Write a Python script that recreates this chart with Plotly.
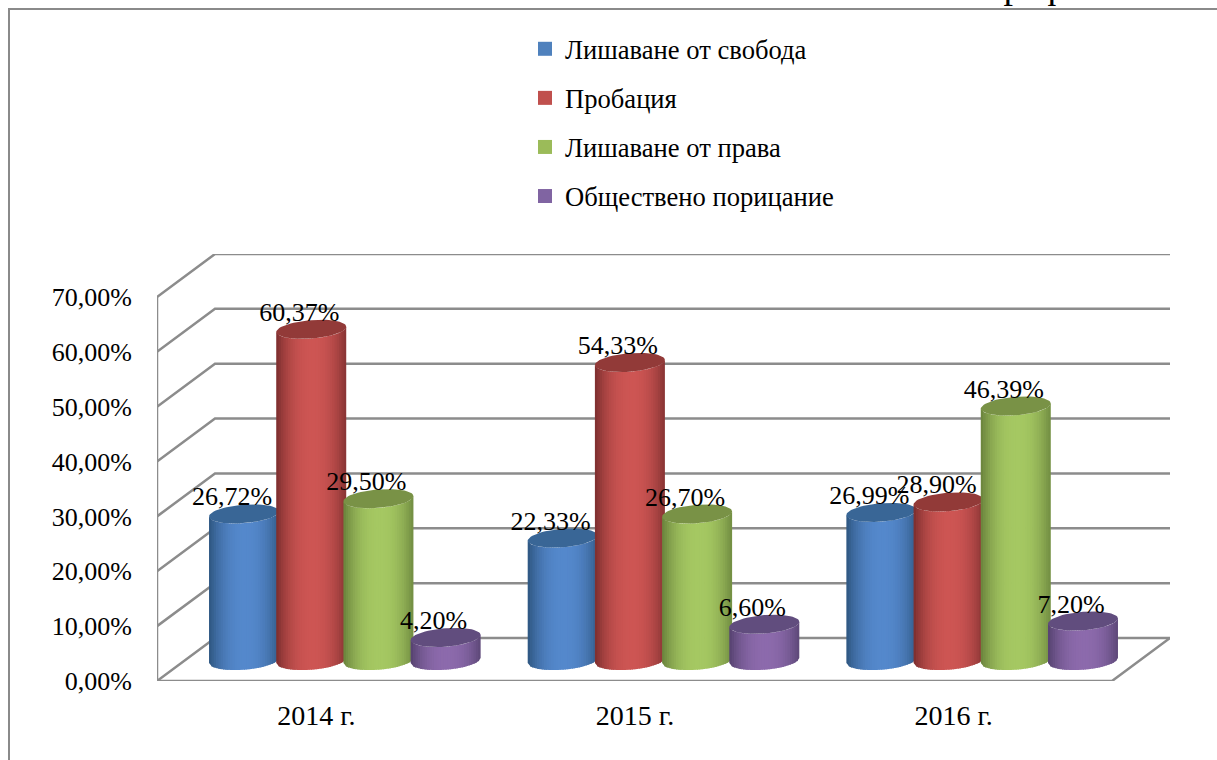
import math
import plotly.graph_objects as go

# ---- data ----
categories = ["2014 г.", "2015 г.", "2016 г."]
series_names = ["Лишаване от свобода", "Пробация", "Лишаване от права", "Обществено порицание"]
svoboda = [26.72, 22.33, 26.99]
probacia = [60.37, 54.33, 28.90]
prava = [29.50, 26.70, 46.39]
poricanie = [4.20, 6.60, 7.20]
series_values = [svoboda, probacia, prava, poricanie]
y_ticks = [0, 10, 20, 30, 40, 50, 60, 70]
y_tick_labels = ["0,00%", "10,00%", "20,00%", "30,00%", "40,00%", "50,00%", "60,00%", "70,00%"]

# ---- style ----
FONT = "Liberation Serif"
FS = 26
centre_cols = [(84, 136, 204), (205, 85, 83), (165, 200, 98), (140, 106, 172)]
edge_cols = [(48, 88, 132), (128, 48, 48), (108, 134, 62), (88, 68, 114)]
cap_cols = [(57, 102, 150), (146, 58, 56), (121, 146, 70), (97, 77, 126)]
swatch_cols = ["#4F81BD", "#C0504D", "#9BBB59", "#8064A2"]
GRID = "#8c8c8c"

# ---- page geometry (pixels) ----
W, H = 1217, 760
L, R, T, B = 157, 1170, 254, 681
PX_PER_CAT = (1113 - 157) / 3
PX_PER_PCT = (681 - 297) / 70
x_min = -0.5
x_max = x_min + (R - L) / PX_PER_CAT
depth_x = 58 / PX_PER_CAT
depth_y = 43 / PX_PER_PCT
y_max = (B - T) / PX_PER_PCT


def ux(px):
    return px / PX_PER_CAT


def uy(px):
    return px / PX_PER_PCT


def paper_x(px):
    return (px - L) / (R - L)


def paper_y(py):
    return (B - py) / (B - T)


# cylinder geometry
step = ux(67.2)
half_w = ux(35)
ell_b = uy(9.2)      # half-height of the tilted ellipse
ell_k = uy(2.6)      # tilt: right side rises
group_dx = ux(28.5)  # half depth of the box
group_dy = uy(20.5)
N = 30


def arc(xc, yc, c, sign):
    """Point of the tilted ellipse at cos = c; sign=-1 is lower arc."""
    s = math.sqrt(max(0, 1 - c * c))
    return xc + half_w * c, yc + ell_k * c + sign * ell_b * s


def mix(a, b, t):
    return "rgb(%d,%d,%d)" % tuple(round(a[i] + (b[i] - a[i]) * t) for i in range(3))


fig = go.Figure()

# walls and floor
gx, gy = [], []
for v in y_ticks:
    gx += [x_min, x_min + depth_x, x_max, None]
    gy += [v, v + depth_y, v + depth_y, None]
# left axis, front floor edge, right floor edge
gx += [x_min, x_min, None, x_min, x_max - depth_x, x_max, None]
gy += [y_ticks[-1], 0, None, 0, 0, depth_y, None]
fig.add_trace(go.Scatter(x=gx, y=gy, mode="lines", line=dict(color=GRID, width=2.5),
                         hoverinfo="skip", showlegend=False, cliponaxis=False))

# cylinders
for si, values in enumerate(series_values):
    name = series_names[si]
    fig.add_trace(go.Scatter(x=[None], y=[None], mode="markers", name=name, legendgroup=name,
                             marker=dict(symbol="square", size=14, color=swatch_cols[si])))
    offset = (si - 1.5) * step + group_dx
    for k in range(N):
        c0 = -1 + 2 * k / N
        c1 = min(1, -1 + 2 * (k + 1.35) / N)
        u = (c0 + c1) / 2
        t = min(1, abs(u - 0.04) ** 2.3)
        xs, ys = [], []
        for ci, val in enumerate(values):
            xc = ci + offset
            yc = group_dy
            x0, yb0 = arc(xc, yc, c0, -1)
            x1, yb1 = arc(xc, yc, c1, -1)
            xs += [x0, x1, x1, x0, x0, None]
            ys += [yb0, yb1, yb1 + val, yb0 + val, yb0, None]
        fig.add_trace(go.Scatter(x=xs, y=ys, mode="lines", fill="toself", line=dict(width=0),
                                 fillcolor=mix(centre_cols[si], edge_cols[si], t),
                                 hoverinfo="skip", showlegend=False, legendgroup=name,
                                 cliponaxis=False))
    # top caps
    cx, cy = [], []
    for ci, val in enumerate(values):
        xc = ci + offset
        for j in range(61):
            th = 2 * math.pi * j / 60
            xp = xc + half_w * math.cos(th)
            yp = group_dy + val + ell_k * math.cos(th) + ell_b * math.sin(th)
            cx.append(xp)
            cy.append(yp)
        cx.append(None)
        cy.append(None)
    fig.add_trace(go.Scatter(x=cx, y=cy, mode="lines", fill="toself", line=dict(width=0),
                             fillcolor=mix(cap_cols[si], cap_cols[si], 0),
                             hoverinfo="skip", showlegend=False, legendgroup=name,
                             cliponaxis=False))

# data labels
for si, values in enumerate(series_values):
    offset = (si - 1.5) * step + group_dx
    fig.add_trace(go.Scatter(
        x=[i + offset - ux(12) for i in range(len(categories))],
        y=[v + group_dy + uy(15) for v in values],
        mode="text",
        text=[f"{v:.2f}".replace(".", ",") + "%" for v in values],
        textposition="middle center",
        textfont=dict(family=FONT, size=FS, color="#000000"),
        showlegend=False, legendgroup=series_names[si], hoverinfo="skip", cliponaxis=False))

# page frame and the cut-off caption
frame = dict(type="line", xref="paper", yref="paper", line=dict(color="#8a8a8a", width=2), layer="below")
shapes = [
    dict(frame, x0=paper_x(9), x1=paper_x(9), y0=paper_y(9), y1=paper_y(H)),
    dict(frame, x0=paper_x(8), x1=paper_x(W), y0=paper_y(9), y1=paper_y(9)),
]
annotations = [dict(text="Графика №3", xref="paper", yref="paper", x=paper_x(982), y=paper_y(8),
                    xanchor="left", yanchor="bottom", showarrow=False,
                    font=dict(family=FONT, size=38, color="#000000"))]

fig.update_layout(
    width=W, height=H,
    margin=dict(l=L, r=W - R, t=T, b=H - B, autoexpand=False),
    paper_bgcolor="#ffffff", plot_bgcolor="#ffffff",
    separators=", ",
    font=dict(family=FONT, size=FS, color="#000000"),
    shapes=shapes, annotations=annotations,
    xaxis=dict(range=[x_min, x_max], tickvals=list(range(len(categories))), ticktext=categories,
               showgrid=False, zeroline=False, showline=False, ticks="",
               ticklabelstandoff=15, tickfont=dict(family=FONT, size=28)),
    yaxis=dict(range=[0, y_max], tickvals=y_ticks, ticktext=y_tick_labels,
               showgrid=False, zeroline=False, showline=False, ticks="",
               ticklabelstandoff=24, tickfont=dict(family=FONT, size=FS)),
    legend=dict(x=paper_x(525), y=paper_y(25), xanchor="left", yanchor="top",
                tracegroupgap=11.5, bgcolor="rgba(0,0,0,0)",
                font=dict(family=FONT, size=26.6, color="#000000")),
    hovermode=False,
)

fig.write_html("out.html", config=dict(displayModeBar=False),
               post_script="document.body.style.margin='0';document.body.style.overflow='hidden';")
